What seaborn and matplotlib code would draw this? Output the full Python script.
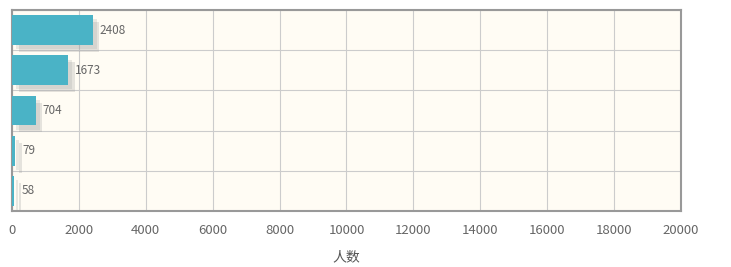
import pandas as pd
import numpy as np
import matplotlib.pyplot as plt
import matplotlib.patheffects as pe
import seaborn as sns

categories = ["c1", "c2", "c3", "c4", "c5"]
counts = [2408, 1673, 704, 79, 58]
xticks = list(range(0, 20001, 2000))

df = pd.DataFrame({"category": categories, "count": counts})

sns.set_style("white")
plt.rcParams["font.family"] = ["Noto Sans CJK SC", "DejaVu Sans"]

fig = plt.figure(figsize=(7.31, 2.67), dpi=100)
ax = fig.add_axes([12 / 731, 56 / 267, 669 / 731, 201 / 267])
ax.set_facecolor("#fffcf4")

sns.barplot(data=df, x="count", y="category", color="#4ab3c6", saturation=1,
            width=0.74, ax=ax, zorder=3)

# soft drop shadow, down and to the right
shadow = [pe.SimplePatchShadow(offset=(5, -5), shadow_rgbFace="#999999", alpha=0.25),
          pe.SimplePatchShadow(offset=(3, -3), shadow_rgbFace="#999999", alpha=0.2),
          pe.Normal()]
for p in ax.patches:
    p.set_path_effects(shadow)
    p.set_edgecolor("none")

for i, v in enumerate(counts):
    ax.text(v + 220, i, str(v), va="center", ha="left", fontsize=8.5, color="#666666")

ax.set_xlim(0, 20000)
ax.set_xticks(xticks)
ax.set_xticklabels([str(t) for t in xticks], fontsize=9.5, color="#666666")
ax.set_yticks(np.arange(-0.5, len(categories), 1))
ax.set_yticklabels([])
ax.set_ylim(len(categories) - 0.5, -0.5)
ax.grid(True, color="#cccccc", linewidth=0.8, zorder=0)
ax.set_axisbelow(True)
ax.tick_params(axis="both", length=4, color="#999999", direction="out", pad=5)
ax.set_ylabel("")
ax.set_xlabel("人数", fontsize=10, color="#555555", labelpad=10)
for s in ax.spines.values():
    s.set_color("#999999")
    s.set_linewidth(1.5)

fig.savefig("out.png", dpi=100)
